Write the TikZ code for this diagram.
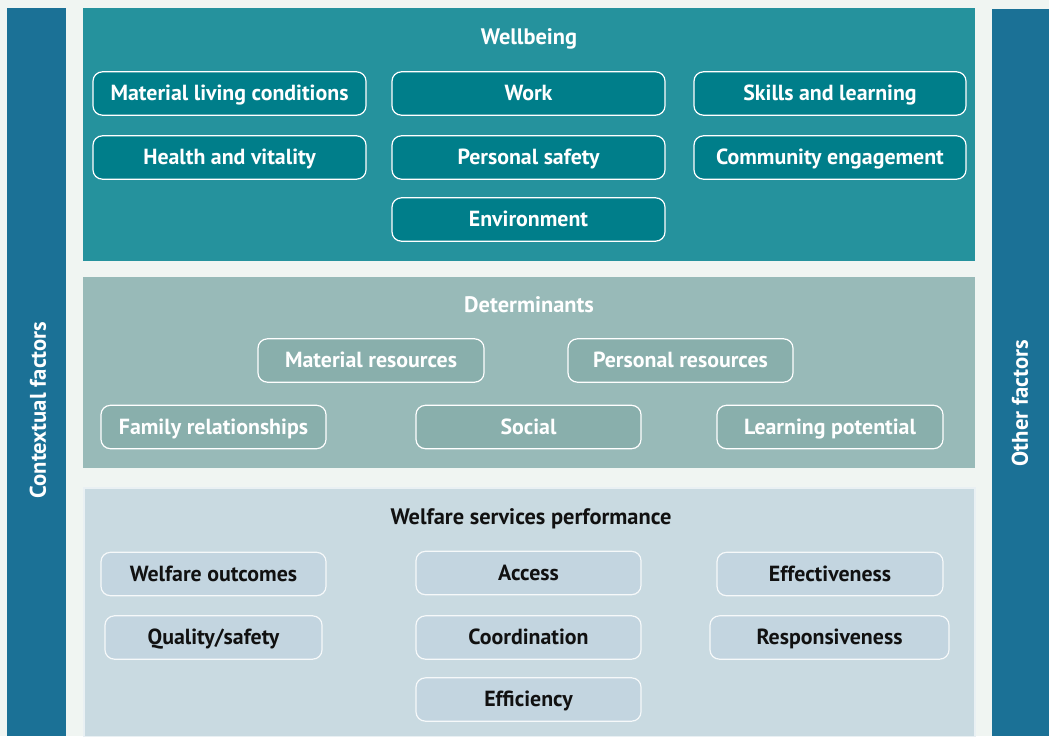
\documentclass[tikz,border=0pt]{standalone}
\usepackage{fontspec}
\setmainfont{PT Sans}
\definecolor{bg}{HTML}{F0F5F2}
\definecolor{bar}{HTML}{1B7196}
\definecolor{wbpanel}{HTML}{25929D}
\definecolor{wbbox}{HTML}{007E8A}
\definecolor{detpanel}{HTML}{98BAB8}
\definecolor{detbox}{HTML}{89AFAC}
\definecolor{wfpanel}{HTML}{C9DAE1}
\definecolor{wfbox}{HTML}{C3D5E0}
\definecolor{darktext}{HTML}{111111}
\tikzset{
  box/.style={draw=white, line width=0.9pt, rounded corners=7pt, inner sep=0pt,
    minimum height=32.5pt, text height=12pt, text depth=1.5pt,
    font=\fontsize{16.4}{18}\selectfont\bfseries},
  wbstyle/.style={box, fill=wbbox, text=white},
  detstyle/.style={box, fill=detbox, text=white},
  wfstyle/.style={box, fill=wfbox, text=darktext, draw=white!85!wfbox},
  bw/.style={minimum width=#1*0.75pt},
  title/.style={font=\fontsize{16.8}{18}\selectfont\bfseries},
  sidelabel/.style={font=\fontsize{17}{18}\selectfont\bfseries, text=white, rotate=90}
}
\begin{document}
\begin{tikzpicture}[x=0.75pt,y=-0.75pt]
\useasboundingbox (0,0) rectangle (1049,736);
\fill[bg] (0,0) rectangle (1049,736);
% side bars
\fill[bar] (7,8) rectangle (66,736);
\fill[bar] (992,9) rectangle (1049,736);
\node[sidelabel] (ctx) at (38,410) {Contextual factors};
\node[sidelabel] (oth) at (1020,403) {Other factors};
% panels
\fill[wbpanel] (83,8) rectangle (975,261);
\fill[detpanel] (83,277) rectangle (975,468);
\fill[wfpanel, draw=white!60!wfpanel, line width=0.8pt] (84,488) rectangle (975,737);
% Wellbeing
\node[title, text=white] (wbt) at (529,39) {Wellbeing};
\node[wbstyle, bw=273] (mlc) at (229.5,93.5) {Material living conditions};
\node[wbstyle, bw=273] (work) at (528.5,93.5) {Work};
\node[wbstyle, bw=272] (skills) at (830,93.5) {Skills and learning};
\node[wbstyle, bw=273] (health) at (229.5,157.5) {Health and vitality};
\node[wbstyle, bw=273] (safety) at (528.5,157.5) {Personal safety};
\node[wbstyle, bw=272] (comm) at (830,157.5) {Community engagement};
\node[wbstyle, bw=273] (env) at (528.5,219.5) {Environment};
% Determinants
\node[title, text=white] (dett) at (529,305) {Determinants};
\node[detstyle, bw=226] (matres) at (371,360.5) {Material resources};
\node[detstyle, bw=225] (perres) at (680.5,360.5) {Personal resources};
\node[detstyle, bw=225] (family) at (213.5,427) {Family relationships};
\node[detstyle, bw=225] (social) at (528.5,427) {Social};
\node[detstyle, bw=226] (learn) at (830,427) {Learning potential};
% Welfare services performance
\node[title, text=darktext] (wft) at (531,519) {Welfare services performance};
\node[wfstyle, bw=225] (outc) at (213.5,574) {Welfare outcomes};
\node[wfstyle, bw=225] (access) at (528.5,573) {Access};
\node[wfstyle, bw=226] (effect) at (830,574) {Effectiveness};
\node[wfstyle, bw=217] (quality) at (213.5,637.5) {Quality/safety};
\node[wfstyle, bw=225] (coord) at (528.5,637.5) {Coordination};
\node[wfstyle, bw=239] (resp) at (829.5,637.5) {Responsiveness};
\node[wfstyle, bw=225] (effic) at (528.5,699.5) {Efficiency};
\end{tikzpicture}
\end{document}
